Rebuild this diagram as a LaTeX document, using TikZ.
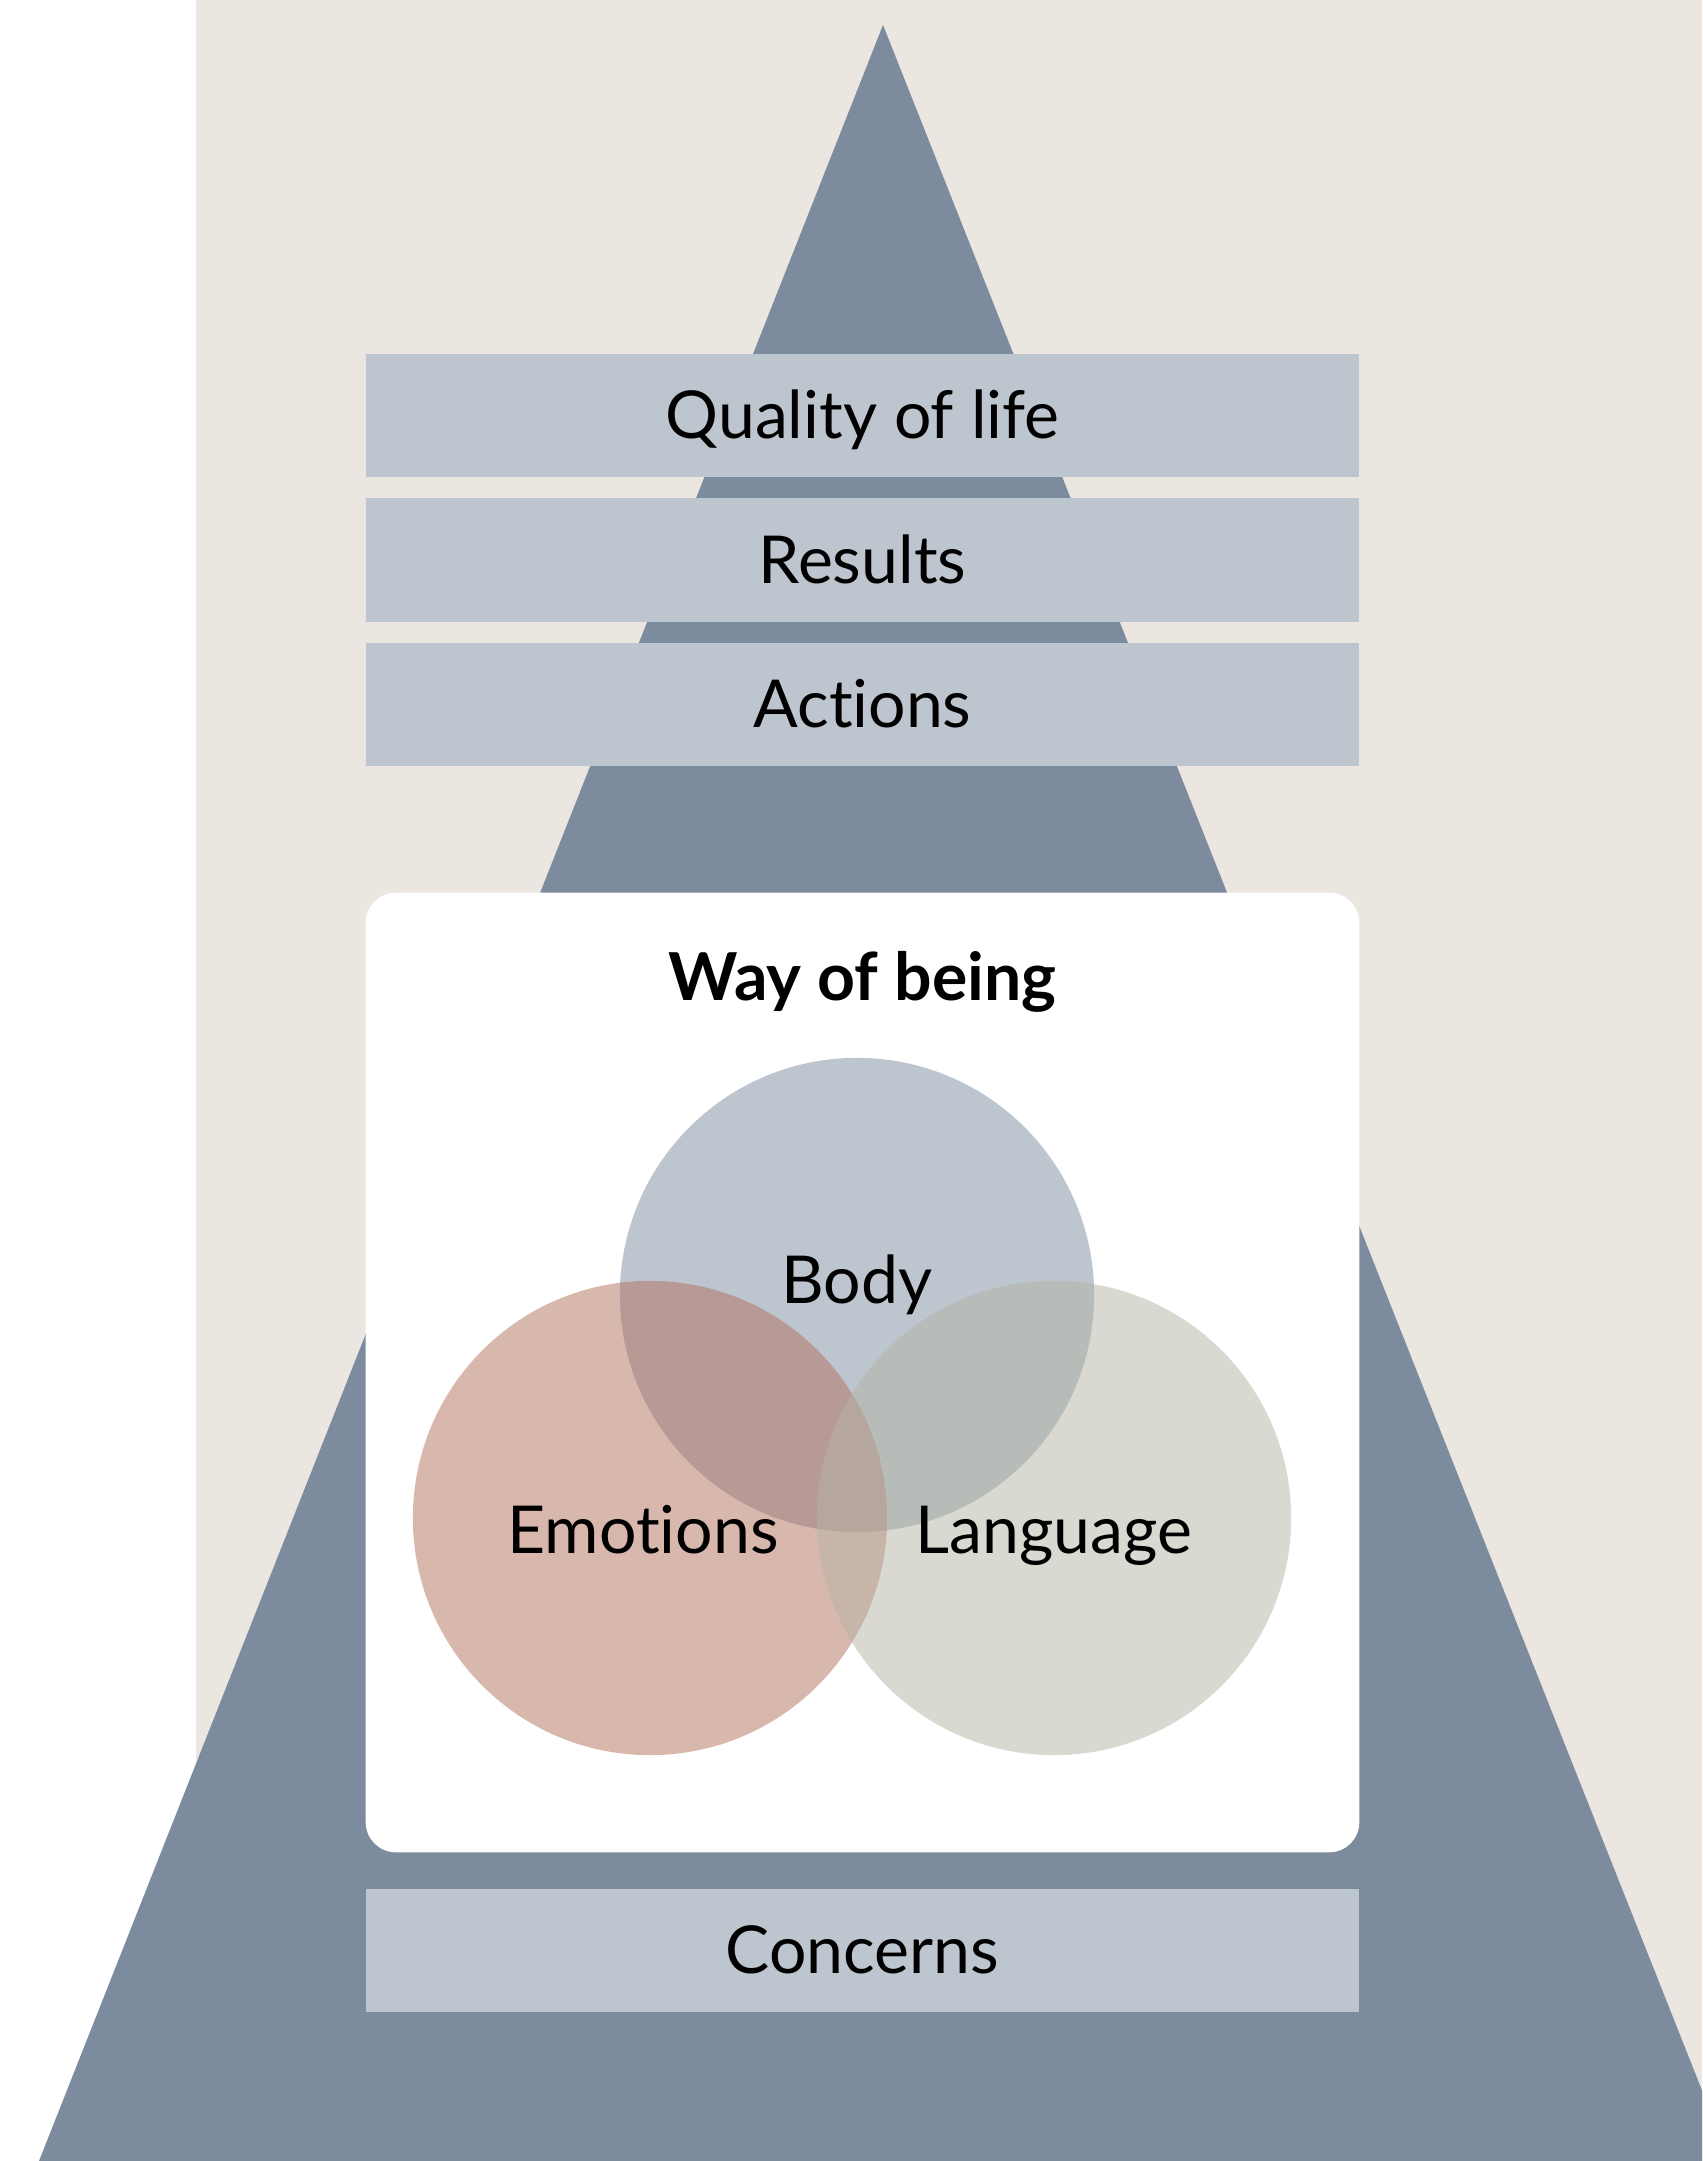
\documentclass[tikz,border=0pt]{standalone}
\usepackage{fontspec}
\setmainfont{Lato}[Ligatures=NoCommon]
\usetikzlibrary{positioning}
\definecolor{sand}{HTML}{EBE6E0}
\definecolor{slate}{HTML}{7C8C9E}
\definecolor{mist}{HTML}{BDC5CE}
\definecolor{clay}{HTML}{B3715D}
\definecolor{sage}{HTML}{B5B5A5}
\tikzset{txt/.style = {inner sep = 0, text height = 0.46cm, text depth = 0pt, font = \fontsize{18.8}{22}\selectfont}}
\tikzset{layer/.style = {txt, fill = mist, minimum width = 9.93cm, minimum height = 1.23cm}}
\tikzset{venn/.style = {circle, fill opacity = 0.5, inner sep = 0, minimum size = 4.74cm}}

\begin{document}
\begin{tikzpicture}[x=0.01cm, y=-0.01cm]
      \useasboundingbox (0,0) rectangle (1702,2161);
      \fill [sand] (196,0) rectangle (1702,2161);
      \begin{scope}
        \clip (0,0) rectangle (1702,2161);
        \fill [slate] (883,25) -- (1730,2161) -- (39,2161) -- cycle;
      \end{scope}

      \node [layer] (quality) at (862.5,415.5) {Quality of life};
      \node [layer, below=0.2cm of quality] (results) {Results};
      \node [layer, below=0.2cm of results] (actions) {Actions};

      \node [fill=white, rounded corners=0.3cm, minimum width=9.93cm, minimum height=9.59cm] (being) at (862.5,1372.5) {};
      \node [txt, font=\fontsize{18.8}{22}\selectfont\bfseries, below=0.62cm of being.north] (title) {Way of being};

      \node [venn, fill=slate] (body) at (857,1295) {};
      \node [venn, fill=clay] (emotions) at (650,1518) {};
      \node [venn, fill=sage] (language) at (1054,1518) {};
      \node [txt] (bodytxt) at ([yshift=0.15cm]body.center) {Body};
      \node [txt] (emotionstxt) at ([xshift=-0.07cm, yshift=-0.12cm]emotions.center) {Emotions};
      \node [txt] (languagetxt) at ([yshift=-0.12cm]language.center) {Language};

      \node [layer, below=0.35cm of being] (concerns) {Concerns};
    \end{tikzpicture}
\end{document}
